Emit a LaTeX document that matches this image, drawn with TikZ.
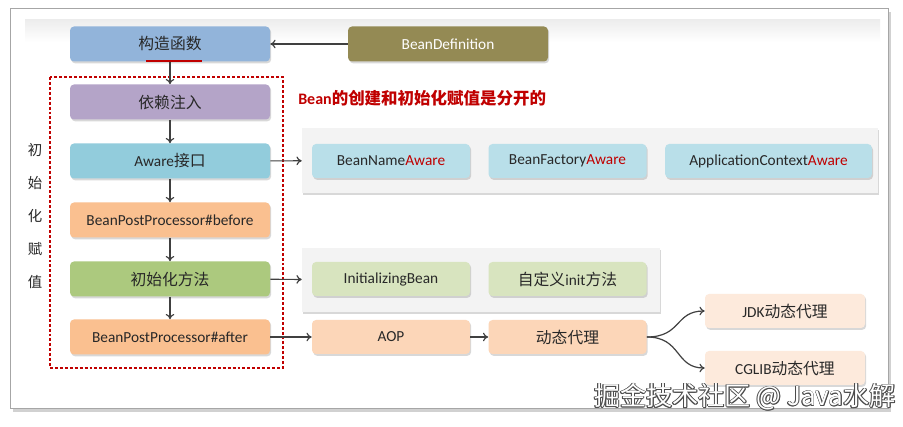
\documentclass[tikz,border=0pt]{standalone}
\usepackage{fontspec}
\setmainfont{Carlito}
\newfontfamily\cjk[Scale=1.03]{Noto Sans CJK SC}
\newcommand{\zh}[1]{{\cjk #1}}
\usetikzlibrary{shadows,arrows.meta}
\definecolor{cblue}{RGB}{146,180,218}
\definecolor{colive}{RGB}{148,138,84}
\definecolor{cpurple}{RGB}{180,164,200}
\definecolor{ccyan}{RGB}{146,204,220}
\definecolor{ccyanl}{RGB}{185,223,233}
\definecolor{corange}{RGB}{250,192,144}
\definecolor{corangel}{RGB}{252,214,184}
\definecolor{corangevl}{RGB}{253,234,220}
\definecolor{cgreen}{RGB}{172,201,126}
\definecolor{cgreenl}{RGB}{216,228,191}
\definecolor{cpanel}{RGB}{243,243,243}
\definecolor{ctxt}{RGB}{40,40,40}
\definecolor{cred}{RGB}{192,0,0}
\definecolor{carr}{RGB}{64,64,64}
\tikzset{
  box/.style={rounded corners=3pt, inner sep=0pt, text=ctxt,
    font=\fontsize{11.5}{13}\selectfont,
    drop shadow={shadow xshift=0.9pt, shadow yshift=-1.4pt, opacity=0.3}},
  mainbox/.style={box, minimum width=150pt, minimum height=26.25pt},
  sidebox/.style={box, minimum width=118.5pt, minimum height=25.5pt},
  panel/.style={fill=cpanel, inner sep=0pt,
    drop shadow={shadow xshift=0.9pt, shadow yshift=-1.4pt, opacity=0.3}},
  arr/.style={-{To[length=4pt,width=6.5pt]}, draw=carr, line width=0.9pt},
  wmfont/.style={font=\cjk\fontsize{19}{22}\selectfont, inner sep=0pt},
}
\begin{document}
\begin{tikzpicture}[x=0.75pt,y=-0.75pt]
\useasboundingbox (0,0) rectangle (903,427);
% frame
\fill[black!30, opacity=0.6] (13,12) rectangle (891,412);
\draw[fill=white, draw=black!35, line width=0.6pt] (10,8) rectangle (888,408);
\shade[top color=black!7, bottom color=white] (25,20) rectangle (880,42);

% panels
\node[panel, minimum width=432pt, minimum height=48.75pt] (p1) at (590,160.5) {};
\node[panel, minimum width=268.5pt, minimum height=48pt] (p2) at (481,280) {};

% main column
\node[mainbox, fill=cblue] (ctor) at (170,44) {\zh{构造函数}};
\node[mainbox, fill=colive, text=white] (def) at (448,44) {BeanDefinition};
\node[mainbox, fill=cpurple] (di) at (170,102) {\zh{依赖注入}};
\node[mainbox, fill=ccyan] (aware) at (170,161) {Aware\zh{接口}};
\node[mainbox, fill=corange] (before) at (170,220) {BeanPostProcessor\#before};
\node[mainbox, fill=cgreen] (init) at (170,279) {\zh{初始化方法}};
\node[mainbox, fill=corange] (after) at (170,337) {BeanPostProcessor\#after};

% red underline
\draw[cred, line width=1.6pt] (146,61) -- (202,61);

% dashed region
\draw[cred, dash pattern=on 2.2pt off 1.5pt, line width=0.8pt] (50,77) rectangle (283,368);

% title
\node[anchor=west, text=cred, font=\fontsize{12}{14}\selectfont\bfseries, inner sep=0pt] (title) at (298,98) {Bean\zh{\bfseries 的创建和初始化赋值是分开的}};

% vertical label
\node[text=ctxt, align=center, inner sep=0pt, font=\cjk\fontsize{10.5}{24.75}\selectfont] (vlabel) at (35,216) {初\\始\\化\\赋\\值};

% side boxes
\node[sidebox, fill=ccyanl] (bna) at (391,161) {BeanName\textcolor{cred}{Aware}};
\node[sidebox, fill=ccyanl] (bfa) at (567.5,161) {BeanFactory\textcolor{cred}{Aware}};
\node[sidebox, fill=ccyanl, minimum width=155pt] (aca) at (768.5,161) {ApplicationContext\textcolor{cred}{Aware}};
\node[sidebox, fill=cgreenl] (ib) at (391,279) {InitializingBean};
\node[sidebox, fill=cgreenl] (cust) at (567.5,279) {\zh{自定义}init\zh{方法}};
\node[sidebox, fill=corangel] (aop) at (391,337) {AOP};
\node[sidebox, fill=corangel] (dyn) at (567.5,337) {\zh{动态代理}};
\node[sidebox, fill=corangevl, minimum width=120pt] (jdk) at (785,311) {JDK\zh{动态代理}};
\node[sidebox, fill=corangevl, minimum width=120pt] (cglib) at (785,368) {CGLIB\zh{动态代理}};

% arrows
\draw[arr] (def) -- (ctor);
\draw[arr] (ctor) -- (di);
\draw[arr] (di) -- (aware);
\draw[arr] (aware) -- (before);
\draw[arr] (before) -- (init);
\draw[arr] (init) -- (after);
\draw[arr] (aware) -- (p1);
\draw[arr] (init) -- (p2);
\draw[arr] (after) -- (aop);
\draw[arr] (aop) -- (dyn);
\draw[arr] (dyn.east) .. controls +(35,0) and +(-30,0) .. (jdk.west);
\draw[arr] (dyn.east) .. controls +(35,0) and +(-30,0) .. (cglib.west);

% watermark
\foreach \dx/\dy in {0.6/0,-0.6/0,0/0.6,0/-0.6,0.45/0.45,-0.45/-0.45,0.45/-0.45,-0.45/0.45}{
  \node[wmfont, text=black!70] at ([xshift=\dx pt, yshift=\dy pt]745,397) {掘金技术社区 @ Java水解};
}
\node[wmfont, text=white] (wm) at (745,397) {掘金技术社区 @ Java水解};
\end{tikzpicture}
\end{document}
